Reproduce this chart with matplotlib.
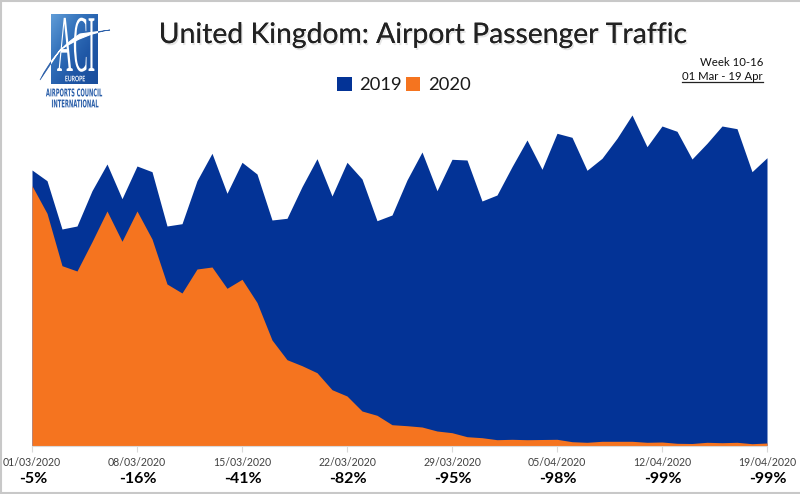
import numpy as np
import pandas as pd
import matplotlib
matplotlib.use("Agg")
import matplotlib.pyplot as plt
import matplotlib.patheffects as pe
from matplotlib.colors import LinearSegmentedColormap
from matplotlib.lines import Line2D
from matplotlib.patches import PathPatch, Rectangle
from matplotlib.path import Path
from matplotlib.transforms import Affine2D

plt.rcParams['font.family'] = ['Lato', 'DejaVu Sans']

TITLE = "United Kingdom: Airport Passenger Traffic"
dates = pd.date_range("2020-03-01", "2020-04-19", freq="D")
traffic_2019 = [276, 265.3, 217, 220, 255.3, 282, 247.3, 280, 274.3, 220, 222.3, 265.3, 292.7,
                252.7, 283.7, 272, 226, 227.7, 259.3, 287.3, 250, 283.7, 267, 225.3, 231, 266,
                294, 255.3, 286.7, 286, 245, 251, 279.3, 306, 276.7, 312.7, 308.7, 275.7, 287.7,
                307.7, 331, 299.3, 320, 314.7, 287, 302.7, 320, 317.3, 274.3, 288.3]
traffic_2020 = [260.3, 232.7, 180.3, 175, 204.3, 235, 204.7, 235, 207, 162, 153, 177, 179,
                157.7, 166.7, 143.5, 106, 86.3, 80.3, 73.3, 56.3, 50, 35, 30.7, 21.3, 20.3,
                19, 15, 13.3, 9.3, 8.3, 6.3, 6.7, 6.3, 6.5, 6.7, 4.3, 3.7, 4.7, 4.7, 4.7,
                3.7, 4, 2.7, 2.5, 3.7, 3.3, 3.7, 2.3, 3]
tick_labels = ["01/03/2020", "08/03/2020", "15/03/2020", "22/03/2020",
               "29/03/2020", "05/04/2020", "12/04/2020", "19/04/2020"]
pct_change = ["-5%", "-16%", "-41%", "-82%", "-95%", "-98%", "-99%", "-99%"]

W, H = 800, 494
BLUE, ORANGE = "#033396", "#F5741F"
LOGO = "#2B5FA9"


class Stretch(pe.AbstractPathEffect):
    """Scale a text's glyphs about a pixel anchor (condensed logo lettering)."""
    def __init__(self, sx, sy, x0, y0):
        super().__init__()
        self.m = Affine2D().translate(-x0, -(H - y0)).scale(sx, sy).translate(x0, H - y0)

    def draw_path(self, renderer, gc, tpath, affine, rgbFace=None):
        renderer.draw_path(gc, tpath, affine + self.m, rgbFace)


fig = plt.figure(figsize=(W / 100, H / 100), dpi=100, facecolor="white")
L, R, B, T = 32, 767, 446, 100
ax = fig.add_axes([L / W, 1 - B / H, (R - L) / W, (B - T) / H])
ax.fill_between(dates, traffic_2019, color=BLUE, lw=0, label="2019")
ax.fill_between(dates, traffic_2020, color=ORANGE, lw=0, label="2020")
ax.set_xlim(dates[0], dates[-1])
ax.set_ylim(0, B - T)
ax.set_yticks([])
ax.set_xticks(dates[::7])
ax.set_xticklabels(tick_labels, fontsize=7.6, color="#404040")
ax.tick_params(axis="x", length=4, width=0.8, color="#D9D9D9", pad=4)
for s in ("top", "right", "left"):
    ax.spines[s].set_visible(False)
ax.spines["bottom"].set_color("#D9D9D9")
ax.patch.set_alpha(0)

for d, p in zip(dates[::7], pct_change):
    ax.annotate(p, (d, 0), xytext=(1, -33), xycoords=("data", "axes fraction"),
                textcoords="offset pixels", ha="center", va="center",
                fontsize=11.5, fontweight="bold", color="black", annotation_clip=False)

fig.legend(loc="center", bbox_to_anchor=(404 / W, 1 - 85 / H), ncol=2, frameon=False,
           fontsize=13.2, handlelength=0.8, handleheight=0.8, handletextpad=0.42,
           columnspacing=0.2, labelcolor="#1A1A1A")

# Overlay in figure pixels for the frame, heading and logo
ov = fig.add_axes([0, 0, 1, 1], zorder=5)
ov.set_xlim(0, W)
ov.set_ylim(H, 0)
ov.axis("off")

for xs, ys in (([1, 1], [0, H]), ([0, W], [1, 1]), ([0, W], [H - 1.5, H - 1.5])):
    ov.add_line(Line2D(xs, ys, color="#C8C8C8", lw=1.5))

ov.text(424, 35, TITLE, ha="center", va="center", fontsize=20.4, color="#222222",
        path_effects=[pe.withSimplePatchShadow(offset=(1, -1.5), shadow_rgbFace="#000000", alpha=0.1),
                      pe.Normal()])
ov.text(763, 62, "Week 10-16", ha="right", va="center", fontsize=8.2, color="#111111")
ov.text(763, 76, "01 Mar - 19 Apr", ha="right", va="center", fontsize=8.2, color="#111111")
ov.add_line(Line2D([682, 763], [82, 82], color="#222222", lw=0.9))

# Logo
grad = np.add.outer(np.linspace(0, 0.5, 40), np.linspace(0, 0.5, 30))
cmap = LinearSegmentedColormap.from_list("aci", ["#5F9BD6", "#3473BC", "#1F57A6", "#1A4E9C"])
box = Rectangle((51, 14), 47, 70, fc="none", ec="none", transform=ov.transData)
ov.add_patch(box)
im = ov.imshow(grad, extent=(51, 98, 84, 14), cmap=cmap, aspect="auto", zorder=2)
ov.set_xlim(0, W)
ov.set_ylim(H, 0)

swoosh = Path([(40, 80), (55, 50), (80, 34), (110, 30), (85, 33), (60, 50), (40, 80), (40, 80)],
              [Path.MOVETO, Path.CURVE3, Path.CURVE3, Path.LINETO, Path.CURVE3, Path.CURVE3, Path.LINETO, Path.CLOSEPOLY])
ov.add_patch(PathPatch(swoosh, fc=LOGO, ec=LOGO, lw=0.5, zorder=3))
white = PathPatch(swoosh, fc="white", ec="white", lw=0.8, zorder=4)
ov.add_patch(white)
white.set_clip_path(box)

ov.text(76, 71, "ACI", ha="center", va="baseline", fontsize=20, color="white",
        family="Liberation Serif", zorder=5,
        path_effects=[Stretch(0.8, 2.9, 76, 71)])
ov.text(75, 79.5, "EUROPE", ha="center", va="center", fontsize=4.6, fontweight="bold",
        color="white", zorder=6, path_effects=[Stretch(0.8, 1.2, 75, 79.5)])
ov.text(74, 93, "AIRPORTS COUNCIL", ha="center", va="center", fontsize=5.7, fontweight="bold",
        color=LOGO, zorder=6, family="Liberation Sans Narrow",
        path_effects=[Stretch(0.65, 1.35, 74, 93)])
ov.text(75, 104, "INTERNATIONAL", ha="center", va="center", fontsize=5.7, fontweight="bold",
        color=LOGO, zorder=6, family="Liberation Sans Narrow",
        path_effects=[Stretch(0.66, 1.35, 75, 104)])

fig.savefig("out.png", dpi=100, facecolor="white")
